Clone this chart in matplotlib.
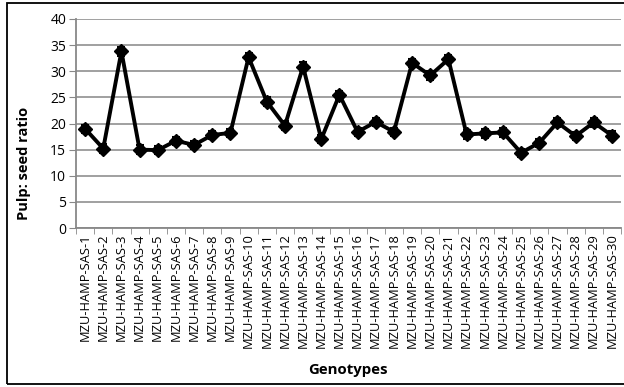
import matplotlib.pyplot as plt
from matplotlib.patches import Rectangle

genotypes = [f"MZU-HAMP-SAS-{i}" for i in range(1, 31)]
ratio = [19.0, 15.2, 33.8, 15.0, 14.9, 16.7, 15.9, 17.8, 18.2, 32.7,
         24.2, 19.6, 30.9, 17.0, 25.5, 18.4, 20.3, 18.4, 31.6, 29.2,
         32.3, 17.9, 18.1, 18.3, 14.4, 16.3, 20.2, 17.6, 20.2, 17.7]
err = [0.8] * 30

plt.rcParams['font.family'] = ['Open Sans', 'DejaVu Sans']

fig = plt.figure(figsize=(6.24, 3.87), dpi=100)
ax = fig.add_axes([76 / 624, 1 - 228 / 387, 545 / 624, 209 / 387])

x = list(range(len(genotypes)))
ax.errorbar(x, ratio, yerr=err, color='black', lw=2.8, marker='D',
            markersize=7, ecolor='black', elinewidth=1.5, capsize=3, capthick=1.5)

ax.set_xlim(-0.5, len(genotypes) - 0.5)
ax.set_ylim(0, 40)
ax.set_yticks(range(0, 41, 5))
ax.set_xticks(x)
ax.set_xticklabels(genotypes, rotation=90, fontsize=9.3)
ax.set_xticks([i - 0.5 for i in range(len(genotypes) + 1)], minor=True)
ax.tick_params(axis='x', which='major', length=0, pad=4)
ax.tick_params(axis='x', which='minor', length=4, color='#888888')
ax.tick_params(axis='y', labelsize=10, length=5, pad=2, color='#888888')
ax.grid(axis='y', color='#999999', lw=1.3)
ax.set_axisbelow(True)
for s in ['top', 'right']:
    ax.spines[s].set_visible(False)
for s in ['left', 'bottom']:
    ax.spines[s].set_color('#888888')
    ax.spines[s].set_linewidth(1.3)

fig.text(24 / 624, 1 - 163 / 387, "Pulp: seed ratio", fontsize=10.5, fontweight='bold',
         rotation=90, ha='center', va='center')
fig.text(348 / 624, 1 - 370 / 387, "Genotypes", fontsize=10.8, fontweight='bold',
         ha='center', va='center')

fig.patches.append(Rectangle((7 / 624, 1 - 384 / 387), 1.0, 381 / 387,
                             transform=fig.transFigure, fill=False,
                             edgecolor='black', lw=1.3))

fig.savefig("out.png", dpi=100)
